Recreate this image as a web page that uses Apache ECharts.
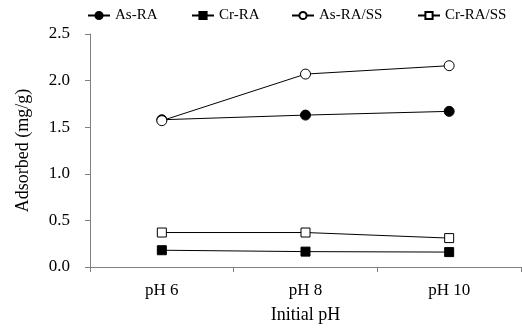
<!DOCTYPE html>
<html>
<head>
<meta charset="utf-8">
<script src="https://cdn.jsdelivr.net/npm/echarts@6/dist/echarts.min.js"></script>
<style>
  html, body { margin: 0; padding: 0; background: #fff; }
  #chart { width: 522px; height: 330px; }
</style>
</head>
<body>
<div id="chart"></div>
<script>
// 数据
var categories = ['pH 6', 'pH 8', 'pH 10'];
var asRA = [1.58, 1.63, 1.67];
var crRA = [0.18, 0.165, 0.16];
var asRASS = [1.57, 2.07, 2.16];
var crRASS = [0.37, 0.37, 0.31];
var yTicks = ['0.0', '0.5', '1.0', '1.5', '2.0', '2.5'];

(function () {
    let dom = document.getElementById('chart');
    let myChart = echarts.init(dom);
    let font = '"Liberation Serif", "Times New Roman", serif';

    let makeSeries = function (name, data, symbol, fill) {
        return {
            name: name,
            type: 'line',
            data: data,
            symbol: symbol,
            symbolSize: symbol == 'circle' ? 10 : 9,
            showSymbol: true,
            lineStyle: { color: '#000', width: 1 },
            itemStyle: { color: fill, borderColor: '#000', borderWidth: 1 },
            emphasis: { disabled: true },
            animation: false
        };
    };

    let legendItem = function (name, left) {
        return {
            data: [name],
            left: left,
            top: 3,
            itemWidth: 22,
            itemHeight: 9,
            itemGap: 4,
            textStyle: { fontFamily: font, fontSize: 15, color: '#000' }
        };
    };

    let option = {
        animation: false,
        legend: [
            legendItem('As-RA', 82),
            legendItem('Cr-RA', 186),
            legendItem('As-RA/SS', 286),
            legendItem('Cr-RA/SS', 412)
        ],
        grid: { left: 90, right: 1, top: 34, bottom: 63, containLabel: false },
        xAxis: {
            type: 'category',
            data: categories,
            boundaryGap: true,
            name: 'Initial pH',
            nameLocation: 'middle',
            nameGap: 39,
            nameTextStyle: { fontFamily: font, fontSize: 18, color: '#000' },
            axisLine: { lineStyle: { color: '#808080', width: 1 } },
            axisTick: { show: true, length: 5, lineStyle: { color: '#808080' } },
            axisLabel: { fontFamily: font, fontSize: 17, color: '#000', margin: 15 },
            splitLine: { show: false }
        },
        yAxis: {
            type: 'value',
            min: 0,
            max: 2.5,
            interval: 0.5,
            name: 'Adsorbed (mg/g)',
            nameLocation: 'middle',
            nameGap: 58,
            nameTextStyle: { fontFamily: font, fontSize: 18, color: '#000' },
            axisLine: { show: true, lineStyle: { color: '#808080', width: 1 } },
            axisTick: { show: true, length: 5, lineStyle: { color: '#808080' } },
            axisLabel: {
                fontFamily: font, fontSize: 17, color: '#000', margin: 20,
                formatter: function (v) { return yTicks[Math.round(v / 0.5)]; }
            },
            splitLine: { show: false }
        },
        series: [
            makeSeries('As-RA', asRA, 'circle', '#000'),
            makeSeries('Cr-RA', crRA, 'rect', '#000'),
            makeSeries('As-RA/SS', asRASS, 'circle', '#fff'),
            makeSeries('Cr-RA/SS', crRASS, 'rect', '#fff')
        ]
    };

    myChart.setOption(option, true);
})();
</script>
</body>
</html>
